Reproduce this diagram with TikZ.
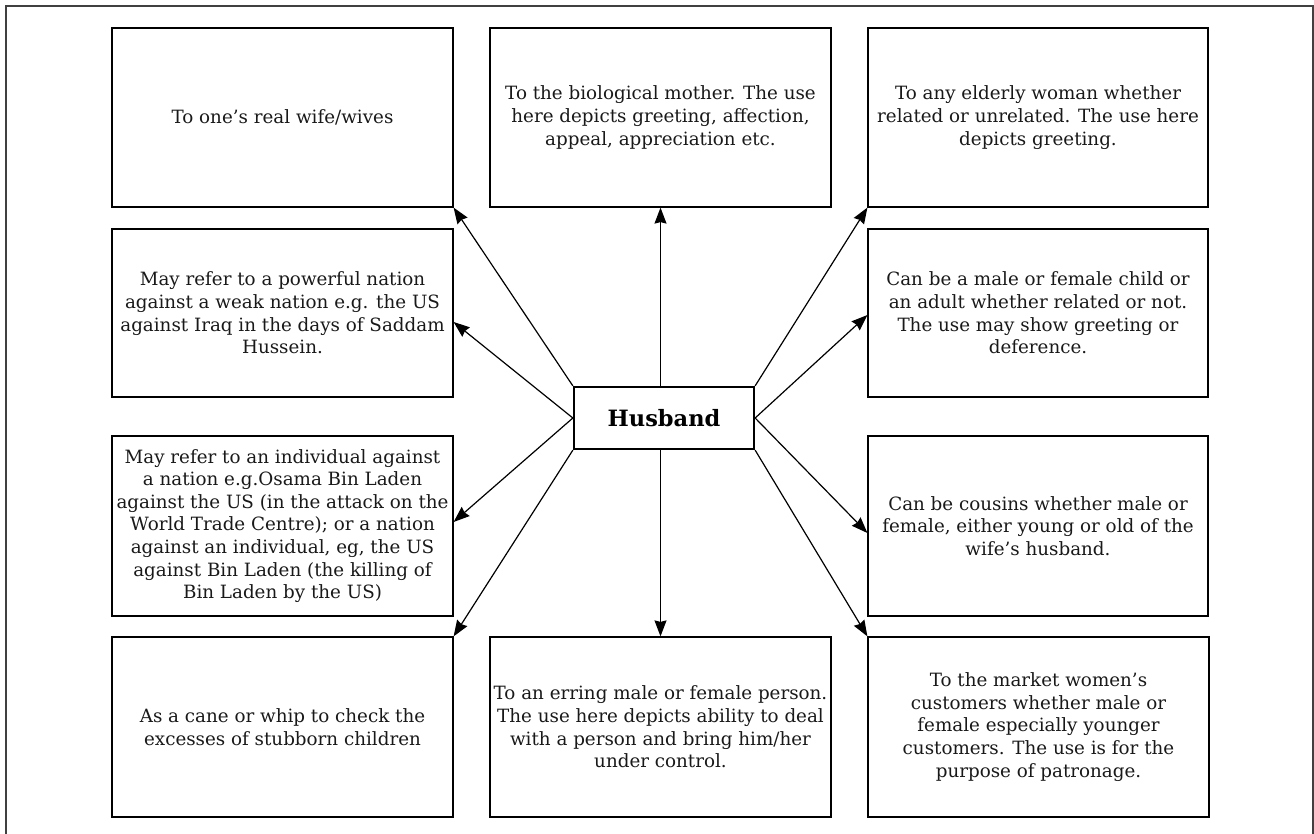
\documentclass[tikz,border=0pt]{standalone}
\usepackage{fontspec}
\setmainfont{DejaVu Serif}
\usetikzlibrary{arrows.meta,calc}
\begin{document}
\begin{tikzpicture}[x=1pt,y=-1pt,
  txtbox/.style={draw=black,line width=1.2pt,minimum width=341pt,align=center,inner sep=1pt,
    font=\fontsize{18.3}{22.6}\selectfont,text=black!90},
  hub/.style={draw=black,line width=2.3pt,minimum width=180pt,minimum height=62pt,
    font=\fontsize{22.5}{28}\selectfont\bfseries},
  link/.style={line width=1.2pt,-{Stealth[length=16pt,width=12pt,inset=1.5pt]}},
  frame/.style={draw=black!75,line width=1.4pt}]
\useasboundingbox (0,0) rectangle (1314,834);
\draw[frame] (6,834) -- (6,6) -- (1313,6) -- (1313,834);

\node[txtbox,minimum height=179pt] (b1) at (282.5,117.5) {To one’s real wife/wives};
\node[txtbox,minimum height=179pt] (b2) at (660.5,117.5) {To the biological mother. The use\\here depicts greeting, affection,\\appeal, appreciation etc.};
\node[txtbox,minimum height=179pt,minimum width=340pt] (b3) at (1038,117.5) {To any elderly woman whether\\related or unrelated. The use here\\depicts greeting.};
\node[txtbox,minimum height=168pt] (b4) at (282.5,313) {May refer to a powerful nation\\against a weak nation e.g. the US\\against Iraq in the days of Saddam\\Hussein.};
\node[txtbox,minimum height=168pt,minimum width=340pt] (b5) at (1038,313) {Can be a male or female child or\\an adult whether related or not.\\The use may show greeting or\\deference.};
\node[txtbox,minimum height=180pt] (b6) at (282.5,526) {May refer to an individual against\\a nation e.g.Osama Bin Laden\\against the US (in the attack on the\\World Trade Centre); or a nation\\against an individual, eg, the US\\against Bin Laden (the killing of\\Bin Laden by the US)};
\node[txtbox,minimum height=180pt,minimum width=340pt] (b7) at (1038,526) {Can be cousins whether male or\\female, either young or old of the\\wife’s husband.};
\node[txtbox,minimum height=180pt] (b8) at (282.5,727) {As a cane or whip to check the\\excesses of stubborn children};
\node[txtbox,minimum height=180pt] (b9) at (660.5,727) {To an erring male or female person.\\The use here depicts ability to deal\\with a person and bring him/her\\under control.};
\node[txtbox,minimum height=180pt,minimum width=341pt] (b10) at (1038.5,727) {To the market women’s\\customers whether male or\\female especially younger\\customers. The use is for the\\purpose of patronage.};

\node[hub] (h) at (664,418) {Husband};

\draw[link] (h.north west) -- (b1.south east);
\draw[link] (h.north -| b2.south) -- (b2.south);
\draw[link] (h.north east) -- (b3.south west);
\draw[link] (h.west) -- ($(b4.east)+(0,9)$);
\draw[link] (h.east) -- ($(b5.west)+(0,2)$);
\draw[link] (h.west) -- ($(b6.east)+(0,-4)$);
\draw[link] (h.east) -- ($(b7.west)+(0,7)$);
\draw[link] (h.south west) -- (b8.north east);
\draw[link] (h.south -| b9.north) -- (b9.north);
\draw[link] (h.south east) -- (b10.north west);
\end{tikzpicture}
\end{document}
